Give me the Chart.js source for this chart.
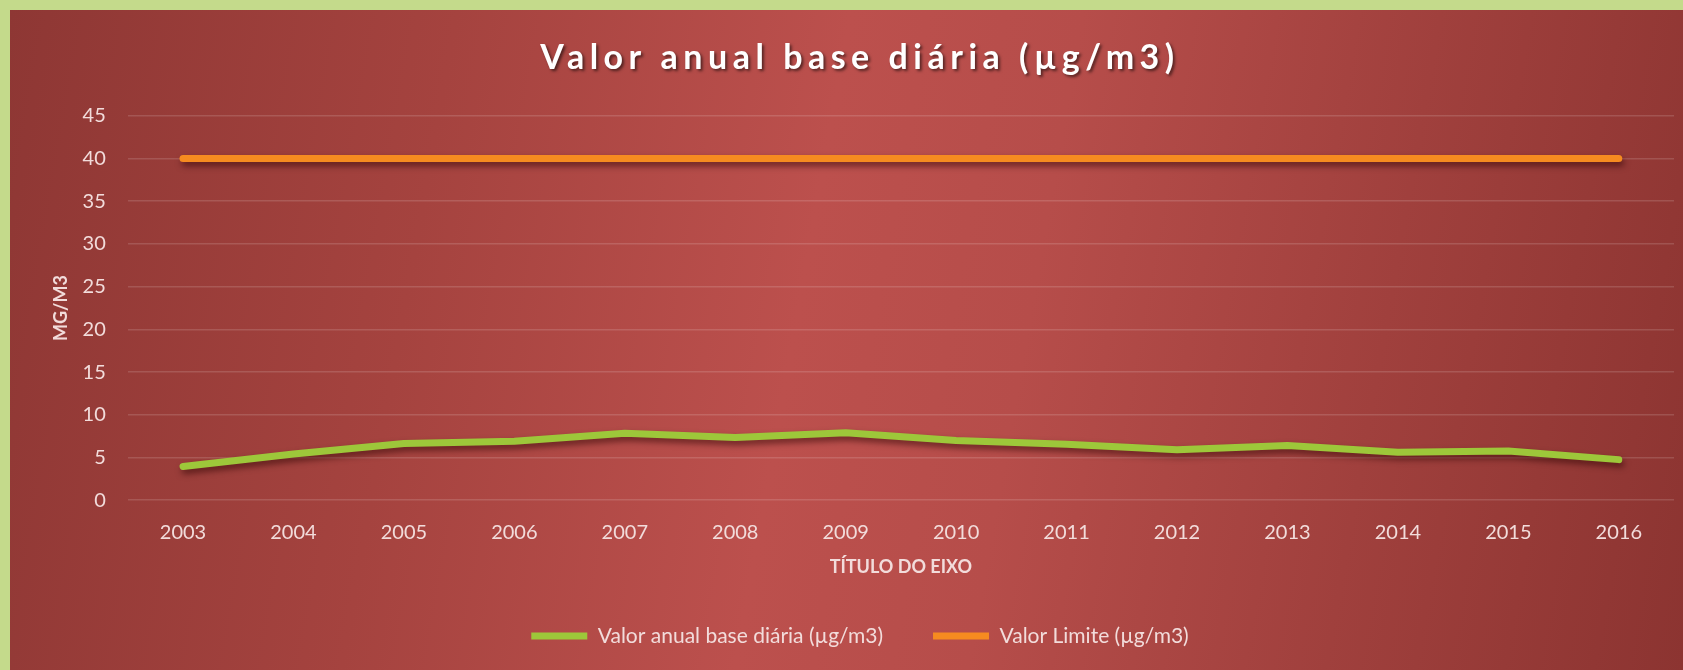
<!DOCTYPE html>
<html>
<head>
<meta charset="utf-8">
<script src="https://cdn.jsdelivr.net/npm/chart.js@4.4.0/dist/chart.umd.min.js"></script>
<style>
  html, body { margin: 0; padding: 0; }
  body { width: 1683px; height: 670px; background: #c4da8b; position: relative; overflow: hidden; }
  #panel {
    position: absolute; left: 10px; top: 10px; right: 0; bottom: 0;
    background: linear-gradient(100deg, #8e3734 0%, #a5433f 25%, #bc504d 47%, #b64d4a 60%, #a0403d 80%, #8c3431 100%);
  }
  #chart { position: absolute; left: 0; top: 0; }
</style>
</head>
<body>
<div id="panel"></div>
<canvas id="chart" width="1683" height="670"></canvas>
<script>
// years on the x axis
const years = ['2003', '2004', '2005', '2006', '2007', '2008', '2009',
               '2010', '2011', '2012', '2013', '2014', '2015', '2016'];

// annual value, daily base (ug/m3)
const dailyBase = [3.95, 5.4, 6.65, 6.9, 7.85, 7.35, 7.9, 7.0, 6.55, 5.9, 6.4, 5.6, 5.75, 4.75];

// limit value (ug/m3)
const limitValue = [40, 40, 40, 40, 40, 40, 40, 40, 40, 40, 40, 40, 40, 40];

const yMin = 0;
const yMax = 45;
const yStep = 5;

const textColor = '#f2dcdb';
const font = 'Lato';

// title gets letter spacing and a drop shadow like the original
const titleStyle = {
    id: 'titleStyle',
    beforeDraw(chart) {
        const tb = chart.titleBlock;
        if (!tb || tb._styled) return;
        const draw = tb.draw.bind(tb);
        tb.draw = function () {
            const ctx = chart.ctx;
            ctx.save();
            ctx.letterSpacing = '5.5px';
            ctx.shadowColor = 'rgba(0, 0, 0, 0.55)';
            ctx.shadowOffsetX = 2;
            ctx.shadowOffsetY = 2;
            ctx.shadowBlur = 3;
            draw();
            ctx.restore();
        };
        tb._styled = true;
    }
};

// soft shadow under the lines
const lineShadow = {
    id: 'lineShadow',
    beforeDatasetDraw(chart) {
        const ctx = chart.ctx;
        ctx.save();
        ctx.shadowColor = 'rgba(40, 0, 0, 0.55)';
        ctx.shadowBlur = 6;
        ctx.shadowOffsetX = 2;
        ctx.shadowOffsetY = 4;
    },
    afterDatasetDraw(chart) {
        chart.ctx.restore();
    }
};

new Chart(document.getElementById('chart').getContext('2d'), {
    type: 'line',
    data: {
        labels: years,
        datasets: [{
            label: 'Valor anual base diária (µg/m3)',
            data: dailyBase,
            borderColor: '#9dc73a',
            backgroundColor: '#9dc73a',
            borderWidth: 7,
            borderCapStyle: 'round',
            borderJoinStyle: 'round',
            pointRadius: 0,
            pointHoverRadius: 0,
            tension: 0,
            fill: false
        }, {
            label: 'Valor Limite (µg/m3)',
            data: limitValue,
            borderColor: '#f68b20',
            backgroundColor: '#f68b20',
            borderWidth: 7,
            borderCapStyle: 'round',
            borderJoinStyle: 'round',
            pointRadius: 0,
            pointHoverRadius: 0,
            tension: 0,
            fill: false
        }]
    },
    options: {
        responsive: false,
        animation: false,
        devicePixelRatio: 1,
        layout: { padding: { left: 46, right: 9, top: 0, bottom: 13.5 } },
        scales: {
            x: {
                offset: true,
                grid: { display: false, drawTicks: false },
                border: { display: false },
                ticks: {
                    color: textColor,
                    font: { family: font, size: 20 },
                    padding: 20,
                    autoSkip: false,
                    maxRotation: 0
                },
                title: {
                    display: true,
                    text: 'TÍTULO DO EIXO',
                    color: textColor,
                    font: { family: font, size: 18, weight: 'bold' },
                    padding: { top: -8, bottom: -2.3 }
                }
            },
            y: {
                min: yMin,
                max: yMax,
                grid: { color: 'rgba(255, 255, 255, 0.14)', lineWidth: 1.5, drawTicks: false },
                border: { display: false },
                ticks: {
                    stepSize: yStep,
                    color: textColor,
                    font: { family: font, size: 20 },
                    padding: 22
                },
                title: {
                    display: true,
                    text: 'MG/M3',
                    color: textColor,
                    font: { family: font, size: 18, weight: 'bold' },
                    padding: { top: 4, bottom: -11 }
                }
            }
        },
        plugins: {
            title: {
                display: true,
                text: 'Valor anual base diária (µg/m3)',
                color: '#ffffff',
                font: { family: font, size: 34, weight: 'bold' },
                padding: { top: 38, bottom: 37 }
            },
            legend: {
                position: 'bottom',
                labels: {
                    usePointStyle: true,
                    pointStyle: 'line',
                    pointStyleWidth: 56,
                    color: textColor,
                    font: { family: font, size: 21 },
                    padding: 50
                }
            },
            tooltip: { enabled: false }
        }
    },
    plugins: [titleStyle, lineShadow]
});
</script>
</body>
</html>
